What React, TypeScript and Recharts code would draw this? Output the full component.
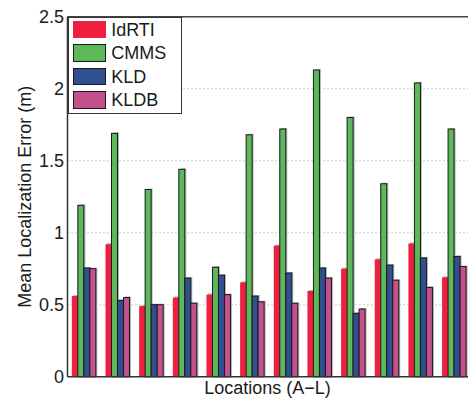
import { BarChart, Bar, XAxis, YAxis, CartesianGrid, ReferenceLine } from 'recharts';

const locations = ['A', 'B', 'C', 'D', 'E', 'F', 'G', 'H', 'I', 'J', 'K', 'L'];
const idrti = [0.56, 0.92, 0.49, 0.55, 0.57, 0.655, 0.91, 0.595, 0.75, 0.815, 0.925, 0.69];
const cmms = [1.19, 1.69, 1.3, 1.44, 0.76, 1.68, 1.72, 2.13, 1.8, 1.34, 2.04, 1.72];
const kld = [0.755, 0.53, 0.5, 0.685, 0.705, 0.56, 0.72, 0.755, 0.44, 0.775, 0.825, 0.835];
const kldb = [0.75, 0.55, 0.5, 0.51, 0.57, 0.52, 0.51, 0.685, 0.47, 0.67, 0.62, 0.765];
const yTicks = [0, 0.5, 1, 1.5, 2, 2.5];

const SERIES = [
  { key: 'idrti', name: 'IdRTI', color: '#ee1f3f', edge: 'none' },
  { key: 'cmms', name: 'CMMS', color: '#5cb85a', edge: '#1a1a1a' },
  { key: 'kld', name: 'KLD', color: '#30508f', edge: '#1a1a1a' },
  { key: 'kldb', name: 'KLDB', color: '#c4508e', edge: '#1a1a1a' },
];

const FONT = '"Liberation Sans", Arial, Helvetica, sans-serif';

const data = locations.map((loc, i) => ({
  loc,
  idrti: idrti[i],
  cmms: cmms[i],
  kld: kld[i],
  kldb: kldb[i],
}));

// bar with the soft grey drop shadow of the exported figure
const ShadowBar = (props: any) => {
  const { x, y, width, height, fill, edge } = props;
  if (!height || height <= 0) return null;
  return (
    <g>
      <rect x={x + 1.5} y={y - 1} width={width} height={height + 1} fill="#b4b4b4" />
      <rect
        x={x}
        y={y}
        width={width}
        height={height}
        fill={fill}
        stroke={edge}
        strokeWidth={edge === 'none' ? 0 : 1}
      />
    </g>
  );
};

const YTitle = (props: any) => {
  const { viewBox } = props;
  const x = viewBox.x + 31;
  const y = viewBox.y + viewBox.height / 2;
  return (
    <text
      x={x}
      y={y}
      transform={`rotate(-90, ${x}, ${y})`}
      textAnchor="middle"
      fontSize={18}
      fontFamily={FONT}
      fill="#1a1a1a"
    >
      Mean Localization Error (m)
    </text>
  );
};

const XTitle = (props: any) => {
  const { viewBox } = props;
  return (
    <text
      x={viewBox.x + viewBox.width / 2 - 2}
      y={viewBox.y + 17}
      textAnchor="middle"
      fontSize={18}
      fontFamily={FONT}
      fill="#1a1a1a"
    >
      Locations (A−L)
    </text>
  );
};

function LegendBox() {
  return (
    <div
      style={{
        position: 'absolute',
        left: 68.3,
        top: 16.7,
        width: 113.4,
        height: 97.3,
        boxSizing: 'border-box',
        border: '1.5px solid #333',
        background: '#fff',
        fontFamily: FONT,
        fontSize: 18,
        color: '#1a1a1a',
      }}
    >
      {SERIES.map((s, i) => (
        <div key={s.key}>
          <div
            style={{
              position: 'absolute',
              left: 4.2,
              top: 3.1 + i * 23.5,
              width: 32.7,
              height: 17.7,
              boxSizing: 'border-box',
              background: s.color,
              border: s.edge === 'none' ? 'none' : '1px solid #1a1a1a',
            }}
          />
          <div
            style={{
              position: 'absolute',
              left: 41.9,
              top: 4 + i * 23.5,
              lineHeight: '17.7px',
              whiteSpace: 'nowrap',
            }}
          >
            {s.name}
          </div>
        </div>
      ))}
    </div>
  );
}

export default function App() {
  return (
    <div
      style={{
        position: 'fixed',
        left: 0,
        top: 0,
        width: 468,
        height: 402,
        overflow: 'hidden',
        background: '#fff',
      }}
    >
      <BarChart
        width={480}
        height={402}
        data={data}
        margin={{ top: 16.7, right: 8.6, bottom: 0, left: 0 }}
        barCategoryGap={4.33}
        barGap={0}
      >
        <CartesianGrid vertical={false} stroke="#a0a0a0" strokeDasharray="1 3" />
        <XAxis
          dataKey="loc"
          tick={false}
          tickLine={false}
          height={25.3}
          axisLine={{ stroke: '#333', strokeWidth: 1.5 }}
          label={XTitle}
        />
        <YAxis
          domain={[0, 2.5]}
          ticks={yTicks}
          width={67.5}
          tickLine={false}
          tickSize={0}
          tickMargin={3.5}
          axisLine={{ stroke: '#333', strokeWidth: 1.5 }}
          tick={{ fontSize: 18, fontFamily: FONT, fill: '#1a1a1a' }}
          label={YTitle}
        />
        <ReferenceLine y={2.5} stroke="#444" strokeWidth={1.5} />
        {SERIES.map((s) => (
          <Bar
            key={s.key}
            dataKey={s.key}
            name={s.name}
            fill={s.color}
            isAnimationActive={false}
            shape={(p: any) => <ShadowBar {...p} edge={s.edge} />}
          />
        ))}
      </BarChart>
      <LegendBox />
    </div>
  );
}
